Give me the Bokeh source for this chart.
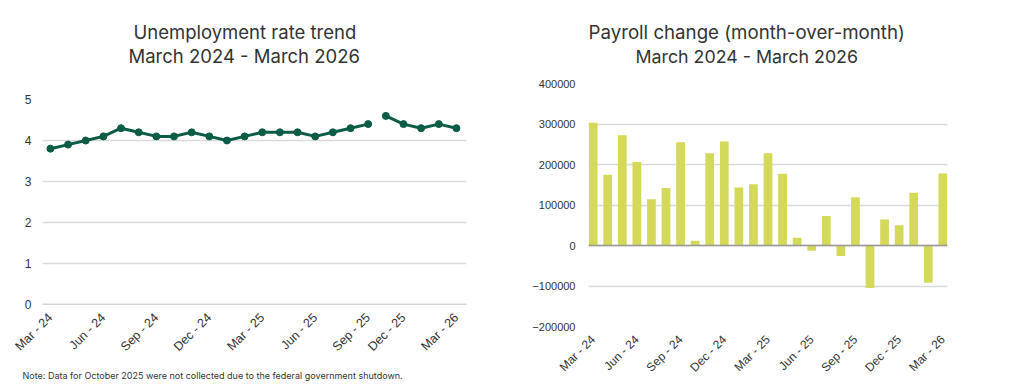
from bokeh.plotting import figure
from bokeh.layouts import row, column
from bokeh.models import Range1d, FixedTicker, Title, Span, BasicTickFormatter
from bokeh.embed import file_html
from bokeh.resources import INLINE

# ---------------- data ----------------
months_all = ["Mar - 24", "Apr - 24", "May - 24", "Jun - 24", "Jul - 24", "Aug - 24",
              "Sep - 24", "Oct - 24", "Nov - 24", "Dec - 24", "Jan - 25", "Feb - 25",
              "Mar - 25", "Apr - 25", "May - 25", "Jun - 25", "Jul - 25", "Aug - 25",
              "Sep - 25", "Oct - 25", "Nov - 25", "Dec - 25", "Jan - 26", "Feb - 26",
              "Mar - 26"]

payroll = [303000, 175000, 272000, 206000, 114000, 142000, 255000, 12000, 228000,
           257000, 143000, 151000, 228000, 177000, 19000, -13000, 73000, -26000,
           119000, -105000, 64000, 50000, 130000, -92000, 178000]

missing_month = "Oct - 25"
unemp_months = [m for m in months_all if m != missing_month]
unemp = [3.8, 3.9, 4.0, 4.1, 4.3, 4.2, 4.1, 4.1, 4.2, 4.1, 4.0, 4.1, 4.2, 4.2, 4.2,
         4.1, 4.2, 4.3, 4.4, 4.6, 4.4, 4.3, 4.4, 4.3]

tick_prefixes = ("Mar", "Jun", "Sep", "Dec")
unemp_yticks = [0, 1, 2, 3, 4, 5]
payroll_yticks = [-200000, -100000, 0, 100000, 200000, 300000, 400000]

titles_left = ["Unemployment rate trend", "March 2024 - March 2026"]
titles_right = ["Payroll change (month-over-month)", "March 2024 - March 2026"]
note = "Note: Data for October 2025 were not collected due to the federal government shutdown."

# ---------------- styles ----------------
LINE_C = "#0b5c47"
BAR_C = "#d4d95a"
GRID_C = "#d9d9d9"
TXT_C = "#333333"
TITLE_FONT = "Inter"
TICK_FONT = "Liberation Sans"


def style_common(p):
    p.outline_line_color = None
    p.background_fill_color = "white"
    p.border_fill_color = "white"
    for ax in (p.xaxis[0], p.yaxis[0]):
        ax.axis_line_color = None
        ax.major_tick_line_color = None
        ax.minor_tick_line_color = None
        ax.major_label_text_font = TICK_FONT
        ax.major_label_text_color = TXT_C
    p.xgrid.grid_line_color = None
    p.ygrid.grid_line_color = GRID_C
    p.ygrid.grid_line_width = 1.3


def add_titles(p, lines, sizes, offsets, gap):
    # spacer between plot frame and the title block
    p.add_layout(Title(text=" ", text_font_size="1px", standoff=gap), "above")
    p.add_layout(Title(text=lines[1], text_font=TITLE_FONT, text_font_size=sizes[1],
                       text_font_style="normal", text_color=TXT_C, align="left",
                       offset=offsets[1], standoff=0), "above")
    p.add_layout(Title(text=lines[0], text_font=TITLE_FONT, text_font_size=sizes[0],
                       text_font_style="normal", text_color=TXT_C, align="left",
                       offset=offsets[0], standoff=0), "above")


# ---------------- left: unemployment ----------------
xu = list(range(len(unemp_months)))
brk = unemp_months.index("Sep - 25") + 1

p1 = figure(width=508, height=386, output_backend="svg", toolbar_location=None,
            x_range=Range1d(-0.45, len(xu) - 1 + 0.57), y_range=Range1d(0, 5),
            min_border_left=42, min_border_right=42, min_border_top=99, min_border_bottom=80)
style_common(p1)
p1.yaxis.ticker = FixedTicker(ticks=unemp_yticks)
p1.yaxis.major_label_text_font_size = "12px"
p1.yaxis.major_label_standoff = 5
lt = [i for i, m in enumerate(unemp_months) if m.startswith(tick_prefixes)]
p1.xaxis.ticker = FixedTicker(ticks=lt)
p1.xaxis.major_label_overrides = {i: unemp_months[i] for i in lt}
p1.xaxis.major_label_orientation = 0.785398
p1.xaxis.major_label_text_font_size = "12.5px"
p1.xaxis.major_label_standoff = 5

p1.add_layout(Span(location=0, dimension="width", line_color="#aaaaaa", line_width=1.5))

p1.line(xu[:brk], unemp[:brk], line_color=LINE_C, line_width=3)
p1.line(xu[brk:], unemp[brk:], line_color=LINE_C, line_width=3)
p1.scatter(xu, unemp, size=7, fill_color=LINE_C, line_color=LINE_C)

add_titles(p1, titles_left, ["18.5px", "18.5px"], [91, 86], 30)
p1.add_layout(Title(text=note, text_font=TITLE_FONT, text_font_size="9px",
                    text_font_style="normal", text_color=TXT_C, align="left", offset=-20,
                    standoff=12), "below")

# ---------------- right: payroll ----------------
xp = list(range(len(months_all)))
p2 = figure(width=510, height=386, output_backend="svg", toolbar_location=None,
            x_range=Range1d(-0.32, len(xp) - 1 + 0.32), y_range=Range1d(-200000, 400000),
            min_border_left=80, min_border_right=71, min_border_top=83, min_border_bottom=60)
style_common(p2)
p2.yaxis.ticker = FixedTicker(ticks=payroll_yticks)
p2.yaxis.formatter = BasicTickFormatter(use_scientific=False)
p2.yaxis.major_label_text_font_size = "11px"
p2.yaxis.major_label_standoff = 7
rt = [i for i, m in enumerate(months_all) if m.startswith(tick_prefixes)]
p2.xaxis.ticker = FixedTicker(ticks=rt)
p2.xaxis.major_label_overrides = {i: months_all[i] for i in rt}
p2.xaxis.major_label_orientation = 0.785398
p2.xaxis.major_label_text_font_size = "12px"
p2.xaxis.major_label_standoff = 5

p2.vbar(x=xp, top=payroll, bottom=0, width=0.6, fill_color=BAR_C, line_color=None)
p2.add_layout(Span(location=0, dimension="width", line_color="#999999", line_width=1.3))

add_titles(p2, titles_right, ["18.7px", "17.8px"], [0, 47], 14)

layout = row(column(p1), column(p2))
open("out.html", "w").write(file_html(layout, INLINE))
